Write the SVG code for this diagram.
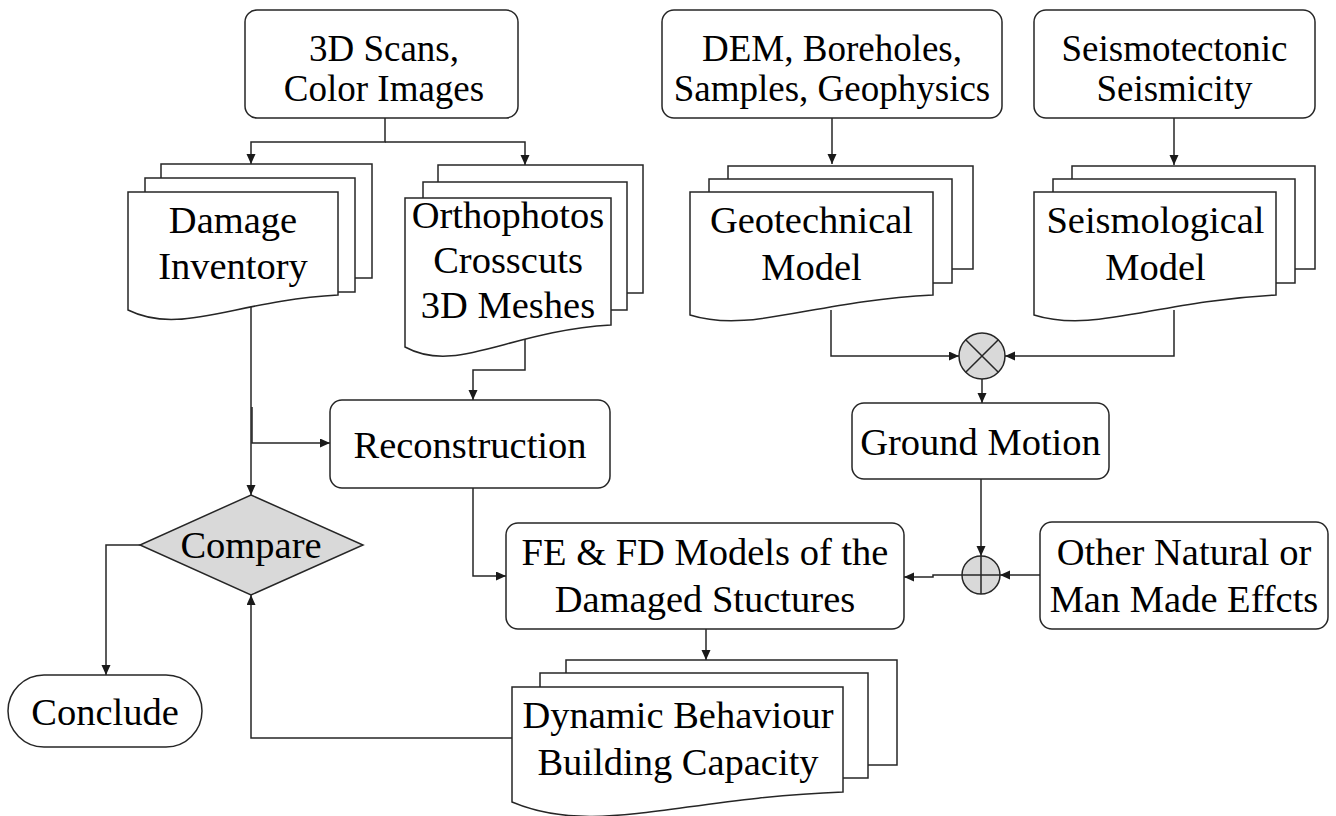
<svg xmlns="http://www.w3.org/2000/svg" width="1336" height="816" viewBox="0 0 1336 816" font-family="'Liberation Serif', 'Times New Roman', Times, 'Nimbus Roman', Tinos, 'DejaVu Serif', serif">
<defs>
<marker id="arr" markerUnits="userSpaceOnUse" markerWidth="11" markerHeight="10" refX="10" refY="4.5" orient="auto">
<path d="M0,0 L10,4.5 L0,9 Z" fill="#1a1a1a"/>
</marker>
</defs>
<style>
.n{fill:#fff;stroke:#262626;stroke-width:1.5}
.g{fill:#d9d9d9;stroke:#262626;stroke-width:1.5}
.c{fill:none;stroke:#262626;stroke-width:1.5}
text{font-size:38.5px;fill:#000;text-anchor:middle}
.s{font-size:37px}
</style>
<rect width="1336" height="816" fill="#fff"/>
<g id="connectors">
<path class="c" d="M385,118 V142 H251 V164" marker-end="url(#arr)"/>
<path class="c" d="M385,142 H525 V165" marker-end="url(#arr)"/>
<path class="c" d="M251,300 V495" marker-end="url(#arr)"/>
<path class="c" d="M252,407 V443 H330" marker-end="url(#arr)"/>
<path class="c" d="M525,335 V370 H473 V400" marker-end="url(#arr)"/>
<path class="c" d="M473,488 V576 H506" marker-end="url(#arr)"/>
<path class="c" d="M706,629 V660" marker-end="url(#arr)"/>
<path class="c" d="M512,738 H251 V595" marker-end="url(#arr)"/>
<path class="c" d="M140,545 H106 V675" marker-end="url(#arr)"/>
<path class="c" d="M832,118 V164" marker-end="url(#arr)"/>
<path class="c" d="M1174,118 V165" marker-end="url(#arr)"/>
<path class="c" d="M831,310 V356 H959" marker-end="url(#arr)"/>
<path class="c" d="M1174,310 V356 H1005" marker-end="url(#arr)"/>
<path class="c" d="M982,379 V403" marker-end="url(#arr)"/>
<path class="c" d="M981,479 V556" marker-end="url(#arr)"/>
<path class="c" d="M1040,575 H1000" marker-end="url(#arr)"/>
<path class="c" d="M962,575 H933 V577 H904" marker-end="url(#arr)"/>
</g>
<g id="scans">
<rect class="n" x="245" y="10" width="273" height="108" rx="12"/>
<text class="s" x="384" y="61" font-family="Liberation Serif">3D Scans,</text>
<text class="s" x="384" y="101" font-family="Liberation Serif">Color Images</text>
</g>
<g id="dem">
<rect class="n" x="662" y="10" width="340" height="108" rx="12"/>
<text class="s" x="832" y="61">DEM, Boreholes,</text>
<text class="s" x="832" y="101">Samples, Geophysics</text>
</g>
<g id="seismotectonic">
<rect class="n" x="1034" y="10" width="281" height="108" rx="12"/>
<text class="s" x="1174.5" y="61">Seismotectonic</text>
<text class="s" x="1174.5" y="101">Seismicity</text>
</g>
<g id="damage">
<rect class="n" x="161" y="164" width="211" height="114"/>
<rect class="n" x="145" y="178" width="210" height="114"/>
<path class="n" d="M128,192 H338 V295 C233,301 180.5,336 128,310 Z"/>
<text x="233" y="233">Damage</text>
<text x="233" y="279">Inventory</text>
</g>
<g id="ortho">
<rect class="n" x="438" y="165" width="205" height="128"/>
<rect class="n" x="423" y="182" width="204" height="128"/>
<path class="n" d="M405,198 H611 V325 C508,331 456.5,375 405,347 Z"/>
<text x="508" y="228">Orthophotos</text>
<text x="508" y="273">Crosscuts</text>
<text x="508" y="318">3D Meshes</text>
</g>
<g id="geotech">
<rect class="n" x="728" y="166" width="245" height="103"/>
<rect class="n" x="709" y="179" width="243" height="104"/>
<path class="n" d="M690,192 H933 V295 C811.5,301 750.75,334 690,315 Z"/>
<text x="811.5" y="233">Geotechnical</text>
<text x="811.5" y="280">Model</text>
</g>
<g id="seismological">
<rect class="n" x="1072" y="166" width="243" height="103"/>
<rect class="n" x="1053" y="179" width="242" height="104"/>
<path class="n" d="M1034,192 H1276 V295 C1155,301 1094.5,334 1034,315 Z"/>
<text x="1155.5" y="233">Seismological</text>
<text x="1155.5" y="280">Model</text>
</g>
<g id="cross">
<circle class="g" cx="982" cy="356" r="23"/>
<path class="c" d="M965.7,339.7 L998.3,372.3 M998.3,339.7 L965.7,372.3"/>
</g>
<g id="reconstruction">
<rect class="n" x="330" y="400" width="280" height="88" rx="12"/>
<text x="470" y="458">Reconstruction</text>
</g>
<g id="ground">
<rect class="n" x="852" y="403" width="257" height="76" rx="12"/>
<text x="980.5" y="455">Ground Motion</text>
</g>
<g id="compare">
<path class="g" d="M251,495 L363,545 L251,595 L140,545 Z"/>
<text x="251" y="558">Compare</text>
</g>
<g id="plus">
<circle class="g" cx="981" cy="575" r="19"/>
<path class="c" d="M962,575 H1000 M981,556 V594"/>
</g>
<g id="fe">
<rect class="n" x="506" y="523" width="398" height="106" rx="12"/>
<text x="705" y="565">FE &amp; FD Models of the</text>
<text x="705" y="612">Damaged Stuctures</text>
</g>
<g id="other">
<rect class="n" x="1040" y="522" width="288" height="107" rx="12"/>
<text x="1184" y="565">Other Natural or</text>
<text x="1184" y="612">Man Made Effcts</text>
</g>
<g id="conclude">
<rect class="n" x="8" y="675" width="194" height="72" rx="36"/>
<text x="105" y="725">Conclude</text>
</g>
<g id="dynamic">
<rect class="n" x="566" y="660" width="331" height="105"/>
<rect class="n" x="540" y="673" width="328" height="105"/>
<path class="n" d="M512,687 H843 V792 C677.5,798 594.75,837 512,802 Z"/>
<text x="678" y="728">Dynamic Behaviour</text>
<text x="678" y="775">Building Capacity</text>
</g>
</svg>
